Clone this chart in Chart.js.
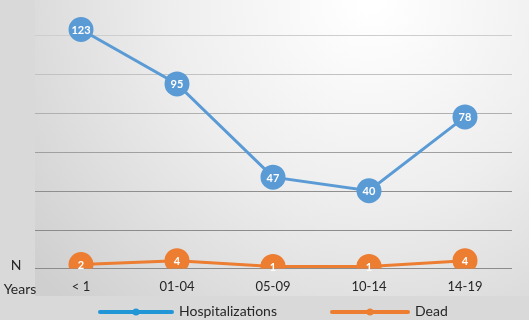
<!DOCTYPE html>
<html>
<head>
<meta charset="utf-8">
<script src="https://cdn.jsdelivr.net/npm/chart.js@4.4.1/dist/chart.umd.min.js"></script>
<style>
  html, body { margin: 0; padding: 0; background: #d9d9d9; }
  #wrap { width: 529px; height: 320px; position: relative; }
</style>
</head>
<body>
<div id="wrap"><canvas id="ageChart"></canvas></div>
<script>
// age groups and counts
const categories = ['< 1', '01-04', '05-09', '10-14', '14-19'];
const hospitalizations = [123, 95, 47, 40, 78];
const dead = [2, 4, 1, 1, 4];
const gridValues = [0, 20, 40, 60, 80, 100, 120];

const blue = '#5b9bd5';
const orange = '#ed7d31';

// gray panel with a light spot near the top right
const backgroundPlugin = {
    id: 'panelBackground',
    beforeDraw(chart) {
        const c = chart.ctx;
        c.save();
        c.fillStyle = '#d9d9d9';
        c.fillRect(0, 0, chart.width, chart.height);
        const g = c.createRadialGradient(370, 0, 10, 370, 0, 430);
        g.addColorStop(0, '#ffffff');
        g.addColorStop(0.45, '#eeeeee');
        g.addColorStop(1, '#cfcfcf');
        c.fillStyle = g;
        c.fillRect(35, 0, chart.width - 35, 296);
        c.restore();
    }
};

// horizontal lines, lighter toward the top
const gridShades = ['#8c8c8c', '#8c8c8c', '#8f8f8f', '#a0a0a0', '#b0b0b0', '#c2c2c2', '#cecece'];
const gridLines = {
    id: 'gridLines',
    beforeDatasetsDraw(chart) {
        const c = chart.ctx;
        const y = chart.scales.y;
        c.save();
        c.lineWidth = 1;
        gridValues.forEach((v, i) => {
            const py = Math.round(y.getPixelForValue(v)) + 0.5;
            c.strokeStyle = gridShades[i];
            c.beginPath();
            c.moveTo(35, py);
            c.lineTo(512, py);
            c.stroke();
        });
        c.restore();
    }
};

// white values written inside each marker
const valueLabels = {
    id: 'valueLabels',
    afterDatasetsDraw(chart) {
        const c = chart.ctx;
        c.save();
        c.fillStyle = '#ffffff';
        c.font = 'bold 11px Lato';
        c.textAlign = 'center';
        c.textBaseline = 'middle';
        chart.data.datasets.forEach((ds, i) => {
            chart.getDatasetMeta(i).data.forEach((pt, j) => {
                c.fillText(ds.data[j], pt.x, pt.y + 1);
            });
        });
        c.restore();
    }
};

// "N", "Years" and the line-with-dot legend at the bottom
const extraText = {
    id: 'extraText',
    afterDraw(chart) {
        const c = chart.ctx;
        c.save();
        c.fillStyle = '#262626';
        c.font = '14px Lato';
        c.textAlign = 'center';
        c.textBaseline = 'middle';
        c.fillText('N', 16, 265);
        c.fillText('Years', 20, 289);

        const items = [
            { text: 'Hospitalizations', color: '#2196d6', x0: 100, x1: 172 },
            { text: 'Dead', color: orange, x0: 332, x1: 408 }
        ];
        items.forEach(it => {
            c.strokeStyle = it.color;
            c.lineWidth = 4;
            c.lineCap = 'round';
            c.beginPath();
            c.moveTo(it.x0, 312);
            c.lineTo(it.x1, 312);
            c.stroke();
            c.fillStyle = it.color;
            c.beginPath();
            c.arc((it.x0 + it.x1) / 2, 312, 3.5, 0, Math.PI * 2);
            c.fill();
            c.fillStyle = '#262626';
            c.textAlign = 'left';
            c.fillText(it.text, it.x1 + 7, 311);
        });
        c.restore();
    }
};

const ctx = document.getElementById('ageChart').getContext('2d');
const ageChart = new Chart(ctx, {
    type: 'line',
    data: {
        labels: categories,
        datasets: [{
            label: 'Hospitalizations',
            data: hospitalizations,
            borderColor: blue,
            backgroundColor: blue,
            pointBackgroundColor: blue,
            pointBorderColor: blue,
            borderWidth: 3,
            pointRadius: 11,
            pointHoverRadius: 11,
            tension: 0
        }, {
            label: 'Dead',
            data: dead,
            borderColor: orange,
            backgroundColor: orange,
            pointBackgroundColor: orange,
            pointBorderColor: orange,
            borderWidth: 3,
            pointRadius: 11,
            pointHoverRadius: 11,
            tension: 0
        }]
    },
    options: {
        responsive: true,
        maintainAspectRatio: false,
        animation: false,
        layout: {
            padding: { left: 25, right: 16, top: 0, bottom: 22 }
        },
        scales: {
            x: {
                offset: true,
                grid: { display: false },
                border: { display: false },
                ticks: {
                    color: '#262626',
                    padding: 3,
                    maxRotation: 0,
                    font: { family: 'Lato', size: 13 }
                }
            },
            y: {
                min: 0,
                max: 131,
                border: { display: false },
                grid: { display: false },
                ticks: { display: false, stepSize: 20 }
            }
        },
        plugins: {
            legend: { display: false },
            tooltip: { enabled: false }
        }
    },
    plugins: [backgroundPlugin, gridLines, valueLabels, extraText]
});
</script>
</body>
</html>
